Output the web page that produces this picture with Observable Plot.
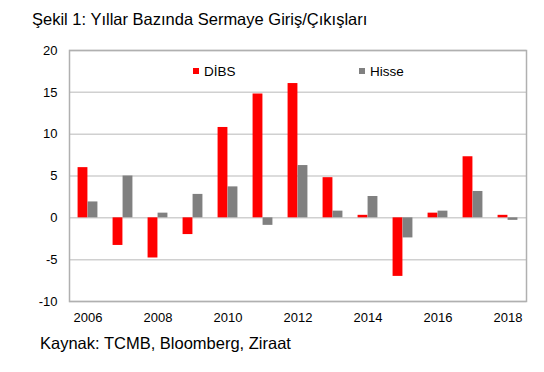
<!DOCTYPE html>
<html>
<head>
<meta charset="utf-8">
<script src="https://cdn.jsdelivr.net/npm/d3@7"></script>
<script src="https://cdn.jsdelivr.net/npm/@observablehq/plot@0.6"></script>
<style>
  html, body { margin: 0; padding: 0; background: #fff; }
  body { width: 544px; height: 372px; font-family: "Liberation Sans", Arial, sans-serif; color: #000; }
  #title { height: 40px; line-height: 38px; padding-left: 32px; font-size: 16.5px; white-space: nowrap; }
  #wrap { position: relative; width: 544px; height: 290px; }
  #caption { height: 26px; line-height: 26px; padding-left: 40px; font-size: 16.5px; white-space: nowrap; }
  .leg { position: absolute; font-size: 13.5px; line-height: 14px; white-space: nowrap; }
  .leg span.sw { display: inline-block; width: 6px; height: 6px; margin-right: 5px; vertical-align: 2px; }
</style>
</head>
<body>
<div id="title">Şekil 1: Yıllar Bazında Sermaye Giriş/Çıkışları</div>
<div id="wrap"></div>
<div id="caption">Kaynak: TCMB, Bloomberg, Ziraat</div>
<script>
const years = [2006, 2007, 2008, 2009, 2010, 2011, 2012, 2013, 2014, 2015, 2016, 2017, 2018];
const dibs  = [6.0, -3.3, -4.8, -2.0, 10.8, 14.8, 16.05, 4.8, 0.3, -7.0, 0.56, 7.3, 0.3];
const hisse = [1.9, 5.0, 0.56, 2.8, 3.7, -0.9, 6.25, 0.8, 2.55, -2.4, 0.8, 3.15, -0.3];
const seriesNames = ["DİBS", "Hisse"];
const seriesColors = ["#ff0000", "#808080"];
const yTicks = [-10, -5, 0, 5, 10, 15, 20];
const xTickLabels = [2006, 2008, 2010, 2012, 2014, 2016, 2018];

const W = 544, H = 290;
const mL = 69, mR = 18, mT = 10, mB = 29;
const bw = (W - mL - mR) / years.length;
const barW = 10;

const rowsD = years.map((y, i) => ({year: y, value: dibs[i]}));
const rowsH = years.map((y, i) => ({year: y, value: hisse[i]}));

const chart = Plot.plot({
  width: W,
  height: H,
  marginLeft: mL,
  marginRight: mR,
  marginTop: mT,
  marginBottom: mB,
  style: {fontFamily: "'Liberation Sans', Arial, sans-serif", fontSize: "13px", color: "#000", background: "#fff"},
  x: {type: "band", domain: years, padding: 0, label: null},
  y: {domain: [-10, 20], label: null},
  marks: [
    Plot.ruleY(yTicks, {stroke: "#d0d0d0", strokeWidth: 1.5}),
    Plot.barY(rowsD, {x: "year", y: "value", fill: seriesColors[0], insetLeft: bw / 2 - barW, insetRight: bw / 2}),
    Plot.barY(rowsH, {x: "year", y: "value", fill: seriesColors[1], insetLeft: bw / 2, insetRight: bw / 2 - barW}),
    Plot.frame({stroke: "#b0b0b0", strokeWidth: 1.5}),
    Plot.axisY({ticks: yTicks, tickFormat: d => String(d), tickSize: 0, tickPadding: 12, label: null, fontSize: 13}),
    Plot.axisX({ticks: xTickLabels, tickFormat: d => String(d), tickSize: 0, tickPadding: 11, label: null, fontSize: 13})
  ]
});
const wrap = document.getElementById("wrap");
wrap.appendChild(chart);

function addLegend(name, color, left, top) {
  const d = document.createElement("div");
  d.className = "leg";
  d.style.left = left + "px";
  d.style.top = top + "px";
  const s = document.createElement("span");
  s.className = "sw";
  s.style.background = color;
  d.appendChild(s);
  d.appendChild(document.createTextNode(name));
  wrap.appendChild(d);
}
addLegend(seriesNames[0], seriesColors[0], 193, 25);
addLegend(seriesNames[1], seriesColors[1], 359, 25);
</script>
</body>
</html>
